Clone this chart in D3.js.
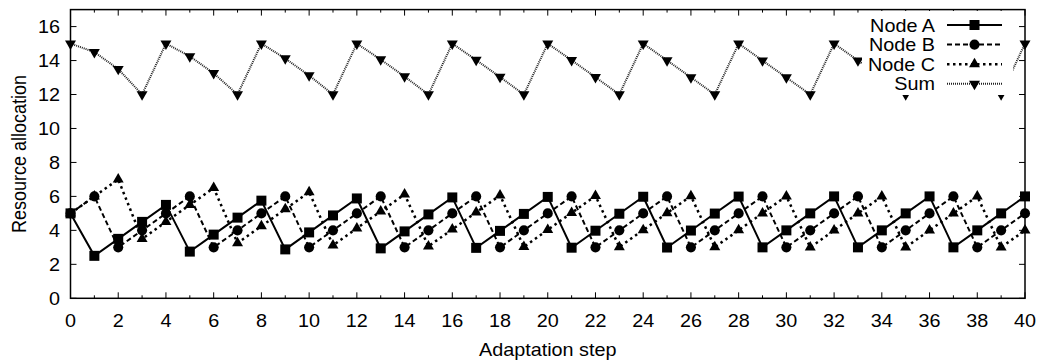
<!DOCTYPE html>
<html>
<head>
<meta charset="utf-8">
<script src="https://cdn.jsdelivr.net/npm/d3@7"></script>
<style>
  html, body { margin: 0; padding: 0; background: #fff; }
  svg { display: block; }
  text { font-family: "Liberation Sans", Arial, Helvetica, sans-serif; font-size: 18px; fill: #000; }
</style>
</head>
<body>
<script>
// Adaptation steps on the x axis
const steps = [0,1,2,3,4,5,6,7,8,9,10,11,12,13,14,15,16,17,18,19,20,
               21,22,23,24,25,26,27,28,29,30,31,32,33,34,35,36,37,38,39,40];

// Resource allocated to each node at every step
const nodeA = [5,2.5,3.5,4.5,5.5,2.75,3.75,4.75,5.75,2.88,3.88,4.88,5.88,2.94,3.94,4.94,5.94,
               2.97,3.97,4.97,5.97,2.98,3.98,4.98,5.98,2.99,3.99,4.99,5.99,3,4,5,6,3,4,5,6,3,4,5,6];
const nodeB = [5,6,3,4,5,6,3,4,5,6,3,4,5,6,3,4,5,6,3,4,5,6,3,4,5,6,3,4,5,6,3,4,5,6,3,4,5,6,3,4,5];
const nodeC = [5,6,7,3.5,4.5,5.5,6.5,3.25,4.25,5.25,6.25,3.12,4.12,5.12,6.12,3.06,4.06,5.06,6.06,
               3.03,4.03,5.03,6.03,3.02,4.02,5.02,6.02,3.01,4.01,5.01,6.01,3,4,5,6,3,4,5,6,3,4];
const total = [15,14.5,13.5,12,15,14.25,13.25,12,15,14.12,13.12,12,15,14.06,13.06,12,15,
               14.03,13.03,12,15,14.02,13.02,12,15,14.01,13.01,12,15,14,13,12,15,14,13,12,15,14,13,12,15];

const seriesNames = ["Node A", "Node B", "Node C", "Sum"];

// Axis ticks
const xMajorTicks = [0,2,4,6,8,10,12,14,16,18,20,22,24,26,28,30,32,34,36,38,40];
const xMinorTicks = [1,3,5,7,9,11,13,15,17,19,21,23,25,27,29,31,33,35,37,39];
const yTicks = [0,2,4,6,8,10,12,14,16];

const W = 1042, H = 363;
const plot = { left: 70.5, right: 1025, top: 9.6, bottom: 298.3 };
const SX = 1.1; // horizontal widening of the lettering

const x = d3.scaleLinear().domain([0, 40]).range([plot.left, plot.right]);
const y = d3.scaleLinear().domain([0, 17]).range([plot.bottom, plot.top]);

const svg = d3.select("body").append("svg").attr("width", W).attr("height", H);

function stext(g, px, py, str, anchor, extra) {
  return g.append("text")
    .attr("transform", `translate(${px},${py}) scale(${SX},1)` + (extra || ""))
    .attr("text-anchor", anchor)
    .text(str);
}

// Series styles: line dash pattern, width and marker symbol
const styles = [
  { data: nodeA, dash: null,   width: 2,   color: "#000", symbol: d3.symbolSquare,   size: 100, rot: 0 },
  { data: nodeB, dash: "5,3",  width: 2,   color: "#000", symbol: d3.symbolCircle,   size: 80,  rot: 0 },
  { data: nodeC, dash: "2.5,3.5", width: 2.5, color: "#000", symbol: d3.symbolTriangle, size: 52, rot: 0 },
  { data: total, dash: "1,1",  width: 2,   color: "#222", symbol: d3.symbolTriangle, size: 52,  rot: 180 }
];

const lineGen = d3.line().x((d, i) => x(steps[i])).y(d => y(d));

const gData = svg.append("g");
styles.forEach(s => {
  gData.append("path")
    .attr("d", lineGen(s.data))
    .attr("fill", "none")
    .attr("stroke", s.color)
    .attr("stroke-width", s.width)
    .attr("stroke-dasharray", s.dash)
    .attr("stroke-linejoin", "miter");
  const sym = d3.symbol().type(s.symbol).size(s.size);
  gData.selectAll(null).data(s.data).join("path")
    .attr("d", sym)
    .attr("transform", (d, i) => `translate(${x(steps[i])},${y(d)}) rotate(${s.rot})`)
    .attr("fill", "#000");
});

// Frame with inward ticks on all four sides
const gAxes = svg.append("g");
gAxes.append("rect")
  .attr("x", plot.left).attr("y", plot.top)
  .attr("width", plot.right - plot.left).attr("height", plot.bottom - plot.top)
  .attr("fill", "none").attr("stroke", "#000").attr("stroke-width", 1.5);

const tickLines = [];
xMajorTicks.forEach(t => {
  tickLines.push([x(t), plot.bottom, x(t), plot.bottom - 6]);
  tickLines.push([x(t), plot.top, x(t), plot.top + 6]);
});
xMinorTicks.forEach(t => {
  tickLines.push([x(t), plot.bottom, x(t), plot.bottom - 3]);
  tickLines.push([x(t), plot.top, x(t), plot.top + 3]);
});
yTicks.forEach(t => {
  tickLines.push([plot.left, y(t), plot.left + 6, y(t)]);
  tickLines.push([plot.right, y(t), plot.right - 6, y(t)]);
});
gAxes.selectAll("line.tick").data(tickLines).join("line")
  .attr("x1", d => d[0]).attr("y1", d => d[1])
  .attr("x2", d => d[2]).attr("y2", d => d[3])
  .attr("stroke", "#000").attr("stroke-width", 1);

xMajorTicks.forEach(t => stext(gAxes, x(t), 327, String(t), "middle"));
yTicks.forEach(t => stext(gAxes, 60, y(t) + 6.4, String(t), "end"));

stext(gAxes, (plot.left + plot.right) / 2, 356, "Adaptation step", "middle");
gAxes.append("text")
  .attr("transform", `translate(25.5,${(plot.top + plot.bottom) / 2}) scale(${SX},1) rotate(-90)`)
  .attr("text-anchor", "middle")
  .text("Resource allocation");

// Opaque key in the upper right corner
const gKey = svg.append("g");
gKey.append("rect")
  .attr("x", 862).attr("y", 11).attr("width", 1013 - 862).attr("height", 95 - 11)
  .attr("fill", "#fff");
const rowY = [25, 44.6, 64.2, 83.8];
styles.forEach((s, i) => {
  const cy = rowY[i];
  stext(gKey, 935, cy + 6.5, seriesNames[i], "end");
  gKey.append("line")
    .attr("x1", 947).attr("x2", 1002).attr("y1", cy).attr("y2", cy)
    .attr("stroke", s.color).attr("stroke-width", s.width)
    .attr("stroke-dasharray", s.dash);
  gKey.append("path")
    .attr("d", d3.symbol().type(s.symbol).size(s.size)())
    .attr("transform", `translate(974.5,${cy}) rotate(${s.rot})`)
    .attr("fill", "#000");
});
</script>
</body>
</html>
